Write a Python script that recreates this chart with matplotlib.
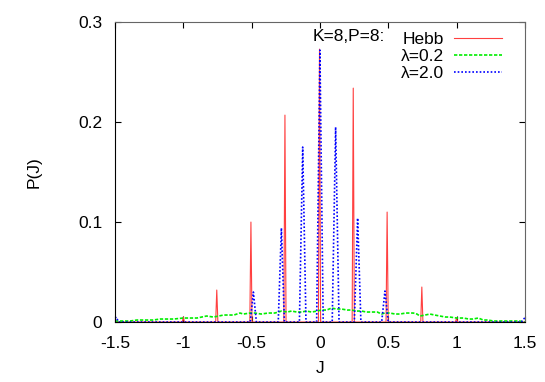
import matplotlib
matplotlib.use('Agg')
import matplotlib.pyplot as plt

# Hebb: narrow spikes (J, P) incl. zero base points
hebb_J = [-1.5, -1.008, -1.0, -0.992, -0.763, -0.755, -0.747, -0.513, -0.505, -0.497,
          -0.264, -0.256, -0.248, -0.011, -0.003, 0.005, 0.236, 0.244, 0.252,
          0.484, 0.492, 0.5, 0.738, 0.746, 0.754, 0.992, 1.0, 1.008, 1.5]
hebb_P = [0, 0, 0.005, 0, 0, 0.032, 0, 0, 0.100, 0,
          0, 0.207, 0, 0, 0.273, 0, 0, 0.234, 0,
          0, 0.110, 0, 0, 0.035, 0, 0, 0.004, 0, 0]

# lambda = 0.2: broad noisy curve
lam02_J = [-1.5, -1.45, -1.39, -1.34, -1.29, -1.22, -1.17, -1.12, -1.07, -1.0, -0.95,
           -0.9, -0.83, -0.78, -0.74, -0.706, -0.67, -0.63, -0.585, -0.56, -0.51,
           -0.475, -0.43, -0.378, -0.33, -0.28, -0.24, -0.207, -0.17, -0.134, -0.1,
           -0.061, -0.02, 0.012, 0.05, 0.085, 0.12, 0.158, 0.2, 0.232, 0.27, 0.305,
           0.34, 0.378, 0.42, 0.451, 0.475, 0.512, 0.55, 0.585, 0.63, 0.683, 0.71,
           0.732, 0.77, 0.805, 0.84, 0.878, 0.92, 0.951, 1.0, 1.05, 1.09, 1.12, 1.16,
           1.195, 1.23, 1.27, 1.32, 1.366, 1.41, 1.46, 1.5]
lam02_P = [0.001, 0.001, 0.001, 0.002, 0.002, 0.002, 0.003, 0.003, 0.003, 0.004, 0.004,
           0.004, 0.006, 0.005, 0.006, 0.007, 0.007, 0.007, 0.009, 0.008, 0.009,
           0.009, 0.008, 0.009, 0.009, 0.011, 0.010, 0.011, 0.010, 0.010, 0.011,
           0.010, 0.011, 0.012, 0.012, 0.014, 0.013, 0.013, 0.012, 0.012, 0.011, 0.011,
           0.010, 0.010, 0.010, 0.008, 0.009, 0.009, 0.008, 0.008, 0.009, 0.009, 0.008,
           0.006, 0.007, 0.008, 0.007, 0.006, 0.005, 0.005, 0.004, 0.004, 0.003, 0.003, 0.004,
           0.002, 0.002, 0.001, 0.001, 0.001, 0.001, 0.001, 0.0]

# lambda = 2.0: wider spikes
lam2_J = [-1.5, -1.49, -1.475, -0.51, -0.487, -0.465, -0.305, -0.282, -0.26,
          -0.15, -0.126, -0.102, -0.024, 0.0, 0.024, 0.09, 0.115, 0.14,
          0.252, 0.276, 0.30, 0.452, 0.476, 0.50, 1.475, 1.49, 1.5]
lam2_P = [0.004, 0.005, 0, 0, 0.030, 0, 0, 0.094, 0,
          0, 0.175, 0, 0, 0.272, 0, 0, 0.195, 0,
          0, 0.104, 0, 0, 0.031, 0, 0, 0.003, 0.004]

xticks = [-1.5, -1, -0.5, 0, 0.5, 1, 1.5]
xtick_labels = ['-1.5', '-1', '-0.5', '0', '0.5', '1', '1.5']
yticks = [0, 0.1, 0.2, 0.3]
ytick_labels = ['0', '0.1', '0.2', '0.3']

plt.rcParams['font.family'] = ['Liberation Sans', 'DejaVu Sans']
plt.rcParams['font.size'] = 12.5

fig = plt.figure(figsize=(5.45, 3.82), dpi=100)
ax = fig.add_axes([0.211, 0.157, 0.752, 0.785])

ax.plot(hebb_J, hebb_P, color='#ff4040', lw=0.8, label='Hebb')
ax.plot(lam02_J, lam02_P, color='#00ee00', lw=1.2, ls=(0, (2, 1)), label='λ=0.2')
ax.plot(lam2_J, lam2_P, color='#0000ff', lw=1.2, ls=(0, (1, 1.2)), label='λ=2.0')

ax.set_xlim(-1.5, 1.5)
ax.set_ylim(0, 0.3)
ax.set_xticks(xticks)
ax.set_xticklabels(xtick_labels)
ax.set_yticks(yticks)
ax.set_yticklabels(ytick_labels)
ax.tick_params(direction='in', top=True, right=True, length=4, width=0.8)
ax.tick_params(axis='x', pad=10)
ax.tick_params(axis='y', pad=9)
for s in ['top', 'right']:
    ax.spines[s].set_color('#666666')

ax.set_xlabel('J')
ax.xaxis.set_label_coords(0.5, -0.13)
ax.set_ylabel('P(J)')
ax.yaxis.set_label_coords(-0.178, 0.5)

leg = ax.legend(loc='upper right', bbox_to_anchor=(0.944, 0.967), frameon=False,
                markerfirst=False, handlelength=2.75, handletextpad=0.6,
                labelspacing=0.1, borderpad=0, borderaxespad=0)
ax.text(0.658, 0.953, 'K=8,P=8:', transform=ax.transAxes, ha='right', va='center')

fig.savefig('out.png', dpi=100)
